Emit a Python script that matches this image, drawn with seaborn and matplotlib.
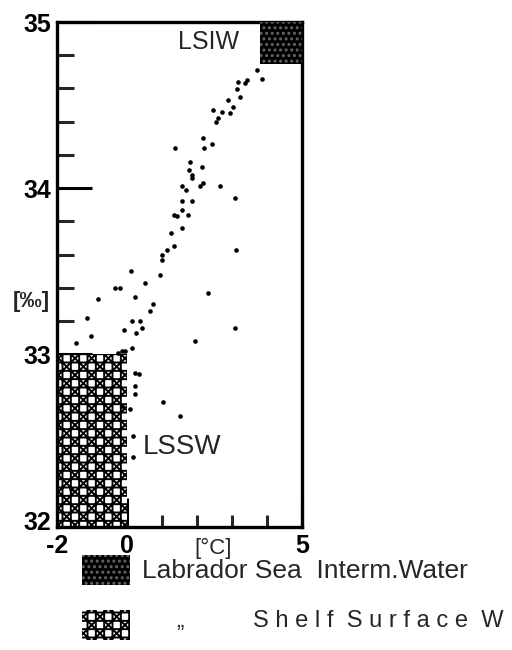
import matplotlib
matplotlib.use('Agg')
import matplotlib.pyplot as plt
from matplotlib.patches import Rectangle
from matplotlib.ticker import FixedLocator, MultipleLocator
import pandas as pd
import seaborn as sns

# T-S points
temp = [3.71, 3.86, 3.42, 3.37, 3.17, 3.14, 3.23, 2.89, 3.03, 2.94,
        2.71, 2.60, 2.54, 2.46, 2.17, 2.43, 2.20, 1.37, 1.80, 1.77,
        2.13, 1.87, 1.87, 2.66, 2.18, 2.09, 1.56, 1.69, 3.09, 1.56,
        1.87, 1.56, 1.34, 1.43, 1.75, 1.56, 1.26, 1.35, 1.13, 0.99,
        0.99, 3.11, 0.94, 0.11, 0.52, -0.35, -0.21, -0.82, 0.24, 2.32,
        0.74, 0.66, -1.13, 0.14, 0.36, -0.08, 0.26, 0.44, 3.09, -1.03,
        -1.47, 1.94, 0.14, -0.15, -0.06, -0.26, 0.23, 0.23, 0.23, 0.09,
        1.04, 1.51, 0.18, 0.16, -0.15, -1.59, 0.35]
salinity = [34.71, 34.655, 34.65, 34.635, 34.64, 34.595, 34.55, 34.53, 34.49, 34.45,
            34.46, 34.42, 34.40, 34.47, 34.30, 34.265, 34.24, 34.24, 34.16, 34.11,
            34.13, 34.06, 34.08, 34.01, 34.03, 34.01, 34.01, 33.99, 33.94, 33.92,
            33.92, 33.87, 33.84, 33.83, 33.84, 33.76, 33.73, 33.65, 33.63, 33.60,
            33.57, 33.63, 33.48, 33.50, 33.43, 33.40, 33.40, 33.335, 33.345, 33.37,
            33.30, 33.26, 33.22, 33.20, 33.20, 33.145, 33.13, 33.16, 33.16, 33.11,
            33.07, 33.08, 33.04, 33.02, 33.02, 33.01, 32.89, 32.81, 32.76, 32.67,
            32.71, 32.63, 32.51, 32.38, 32.69, 32.19, 32.88]

# water mass boxes: (t0, s0, t1, s1)
lsiw_box = (3.8, 34.75, 5.0, 35.0)
lssw_box = (-2.0, 31.96, 0.0, 33.0)

df = pd.DataFrame({'T': temp, 'S': salinity})

sns.set_style('white')
plt.rcParams['font.family'] = ['Liberation Sans', 'DejaVu Sans']
plt.rcParams['hatch.linewidth'] = 1.4
plt.rcParams['axes.unicode_minus'] = False

LSSW_HATCH = 'xx++'
LSIW_HATCH = '...'

fig = plt.figure(figsize=(5.12, 6.5), dpi=100)
ax = fig.add_axes([0.1113, 0.1892, 0.4785, 0.7769])

# shelf surface water box
ax.add_patch(Rectangle((lssw_box[0], lssw_box[1]), lssw_box[2] - lssw_box[0],
                       lssw_box[3] - lssw_box[1], facecolor='white',
                       edgecolor='black', hatch=LSSW_HATCH, linewidth=0, zorder=1))
# intermediate water box
ax.add_patch(Rectangle((lsiw_box[0], lsiw_box[1]), lsiw_box[2] - lsiw_box[0],
                       lsiw_box[3] - lsiw_box[1], facecolor='black',
                       edgecolor='#666666', hatch=LSIW_HATCH, linewidth=0, zorder=3))

sns.scatterplot(data=df, x='T', y='S', color='black', s=11, linewidth=0,
                ax=ax, zorder=2)

ax.set_xlim(-2, 5)
ax.set_ylim(31.96, 35)
ax.set_xlabel('')
ax.set_ylabel('')

ax.xaxis.set_major_locator(FixedLocator([-2, 0, 5]))
ax.xaxis.set_minor_locator(MultipleLocator(1))
ax.yaxis.set_major_locator(FixedLocator([32, 33, 34, 35]))
ax.yaxis.set_minor_locator(MultipleLocator(0.2))

ax.tick_params(axis='y', which='major', direction='in', length=25, width=2.2,
               left=True, labelsize=18, pad=4, colors='black')
ax.tick_params(axis='y', which='minor', direction='in', length=12, width=2.2, left=True)
ax.tick_params(axis='x', which='major', direction='in', length=21, width=2.2,
               bottom=True, labelsize=18, pad=5, colors='black')
ax.tick_params(axis='x', which='minor', direction='in', length=9, width=2.2, bottom=True)
plt.setp(ax.get_xticklabels() + ax.get_yticklabels(), fontweight='bold')

for sp in ax.spines.values():
    sp.set_color('black')
    sp.set_linewidth(2.4)

ax.text(3.2, 34.88, 'LSIW', ha='right', va='center', fontsize=18)
ax.text(0.46, 32.44, 'LSSW', ha='left', va='center', fontsize=20)
ax.text(2.45, -0.042, '[°C]', transform=ax.get_xaxis_transform(),
        ha='center', va='center', fontsize=16)
fig.text(31 / 512, 1 - 302 / 650, '[‰]', ha='center', va='center', fontsize=16,
         fontweight='bold')

# legend drawn in figure space
fig.patches.append(Rectangle((82 / 512, 1 - 585 / 650), 48 / 512, 30 / 650,
                             transform=fig.transFigure, facecolor='black',
                             edgecolor='#666666', hatch=LSIW_HATCH, linewidth=0))
fig.patches.append(Rectangle((82 / 512, 1 - 640 / 650), 48 / 512, 30 / 650,
                             transform=fig.transFigure, facecolor='white',
                             edgecolor='black', hatch=LSSW_HATCH, linewidth=0))
fig.text(142 / 512, 1 - 571 / 650, 'Labrador Sea  Interm.Water', ha='left',
         va='center', fontsize=19)
fig.text(180 / 512, 1 - 622 / 650, '\u201e', ha='center', va='center', fontsize=16)
fig.text(253 / 512, 1 - 621 / 650, 'S h e l f  S u r f a c e  W', ha='left',
         va='center', fontsize=17)

fig.savefig('out.png', dpi=100)
